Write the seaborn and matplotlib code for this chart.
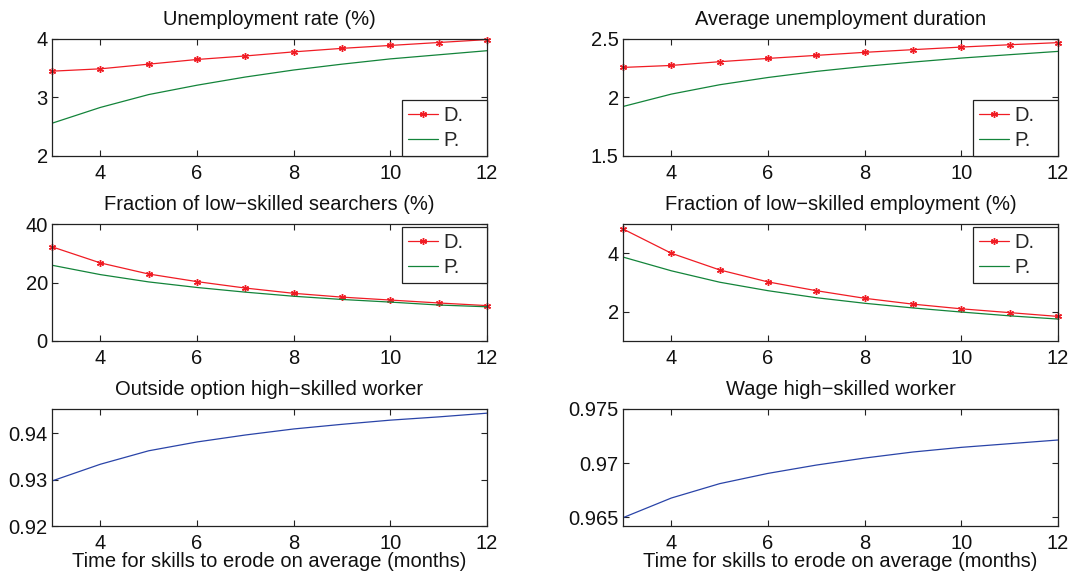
import numpy as np
import pandas as pd
import seaborn as sns
import matplotlib.pyplot as plt

# data
months = [3, 4, 5, 6, 7, 8, 9, 10, 11, 12]

unemp_D = [3.45, 3.49, 3.57, 3.65, 3.71, 3.78, 3.84, 3.89, 3.94, 3.99]
unemp_P = [2.56, 2.83, 3.05, 3.21, 3.35, 3.47, 3.57, 3.66, 3.73, 3.80]

dur_D = [2.257, 2.274, 2.306, 2.334, 2.360, 2.386, 2.409, 2.431, 2.451, 2.469]
dur_P = [1.923, 2.029, 2.109, 2.171, 2.223, 2.266, 2.303, 2.337, 2.366, 2.394]

search_D = [32.2, 26.7, 22.9, 20.3, 18.1, 16.3, 15.0, 14.0, 13.0, 12.1]
search_P = [25.9, 22.7, 20.2, 18.3, 16.7, 15.3, 14.2, 13.3, 12.3, 11.7]

emp_D = [4.83, 4.00, 3.43, 3.02, 2.72, 2.46, 2.26, 2.10, 1.97, 1.84]
emp_P = [3.87, 3.40, 3.01, 2.72, 2.48, 2.29, 2.13, 1.99, 1.86, 1.75]

outside = [0.9297, 0.9333, 0.9362, 0.9381, 0.9396, 0.9409, 0.9419, 0.9428, 0.9435, 0.9443]
wage = [0.96494, 0.96676, 0.96809, 0.96904, 0.96981, 0.97046, 0.97102, 0.97145, 0.97179, 0.97213]

titles = ["Unemployment rate (%)", "Average unemployment duration",
          "Fraction of low\u2212skilled searchers (%)", "Fraction of low\u2212skilled employment (%)",
          "Outside option high\u2212skilled worker", "Wage high\u2212skilled worker"]
xlabel = "Time for skills to erode on average (months)"

sns.set_style("ticks")
plt.rcParams['font.family'] = ['Liberation Sans', 'DejaVu Sans']
FS = 14.5

RED = "#f01c24"
GREEN = "#13843a"
BLUE = "#2a44a8"

fig = plt.figure(figsize=(10.76, 5.77), dpi=100)

lefts = [52 / 1076, 623 / 1076]
w = 435 / 1076
tops = [39, 224, 409]
h = 117 / 577


def make_ax(row, col):
    top = tops[row]
    return fig.add_axes([lefts[col], 1 - (top + 117) / 577, w, h])


def style(ax, title, ylim, yticks, yticklabels=None):
    ax.set_xlim(3, 12)
    ax.set_xticks([4, 6, 8, 10, 12])
    ax.set_ylim(*ylim)
    ax.set_yticks(yticks)
    if yticklabels is not None:
        ax.set_yticklabels(yticklabels)
    ax.tick_params(direction="in", top=True, right=True, labelsize=FS, length=4, width=0.8, pad=3,
                   colors="#222222", labelcolor="#111111")
    ax.tick_params(axis="x", pad=6)
    for s in ax.spines.values():
        s.set_visible(True)
        s.set_linewidth(0.9)
        s.set_color("#222222")
    ax.set_title(title, fontsize=FS, pad=10, color="#111111")
    ax.set_xlabel("")
    ax.set_ylabel("")


def two_lines(ax, d, p, loc):
    sns.lineplot(x=months, y=d, ax=ax, color=RED, marker=(6, 2, 0), markersize=5,
                 markeredgecolor=RED, markeredgewidth=1.0, linewidth=0.9, label="D.", clip_on=False)
    sns.lineplot(x=months, y=p, ax=ax, color=GREEN, linewidth=0.9, label="P.")
    bw, bh = 85 / 435, 56 / 117
    if loc == "lower right":
        anchor = (1 - bw, 0, bw, bh)
    else:
        anchor = (1 - bw, 1 - bh - 3 / 117, bw, bh)
    leg = ax.legend(loc=loc, bbox_to_anchor=anchor, mode="expand", borderaxespad=0,
                    fancybox=False, framealpha=1, edgecolor="#222222", fontsize=FS,
                    handlelength=1.5, handletextpad=0.25, borderpad=0.3, labelspacing=0.3)
    leg.get_frame().set_linewidth(0.9)
    leg.set_zorder(5)


ax = make_ax(0, 0)
two_lines(ax, unemp_D, unemp_P, "lower right")
style(ax, titles[0], (2, 4), [2, 3, 4])

ax = make_ax(0, 1)
two_lines(ax, dur_D, dur_P, "lower right")
style(ax, titles[1], (1.5, 2.5), [1.5, 2, 2.5], ["1.5", "2", "2.5"])

ax = make_ax(1, 0)
two_lines(ax, search_D, search_P, "upper right")
style(ax, titles[2], (0, 40), [0, 20, 40])

ax = make_ax(1, 1)
two_lines(ax, emp_D, emp_P, "upper right")
style(ax, titles[3], (1, 5), [2, 4])

ax = make_ax(2, 0)
sns.lineplot(x=months, y=outside, ax=ax, color=BLUE, linewidth=0.9)
style(ax, titles[4], (0.92, 0.9452), [0.92, 0.93, 0.94])
ax.set_xlabel(xlabel, fontsize=FS, labelpad=-1, color="#111111")

ax = make_ax(2, 1)
sns.lineplot(x=months, y=wage, ax=ax, color=BLUE, linewidth=0.9)
style(ax, titles[5], (0.96417, 0.975), [0.965, 0.97, 0.975], ["0.965", "0.97", "0.975"])
ax.set_xlabel(xlabel, fontsize=FS, labelpad=-1, color="#111111")

fig.savefig("out.png", dpi=100, facecolor="white")
